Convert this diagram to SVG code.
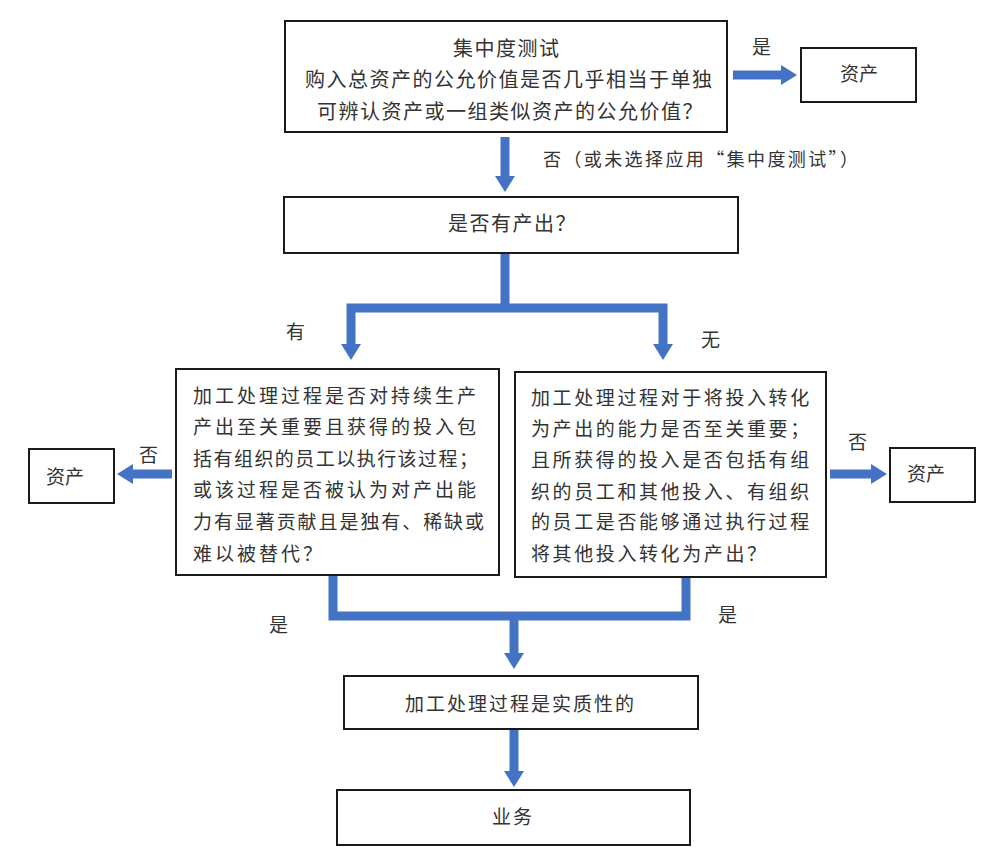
<svg xmlns="http://www.w3.org/2000/svg" width="991" height="854" viewBox="0 0 991 854">
<style>
.box{fill:#fff;stroke:#1a1a1a;stroke-width:2}
text{font-family:"Noto Sans CJK SC","Noto Sans CJK TC",sans-serif;fill:#333;dominant-baseline:central}
.t20{font-size:20px;letter-spacing:1.5px}
.tl{font-size:19px;letter-spacing:3px}
.tr{font-size:19px;letter-spacing:2.6px}
.t19b{font-size:19px;letter-spacing:2px}
.lbl{font-size:19px}
.lbl2{font-size:18px;letter-spacing:2.4px}
.con{fill:none;stroke:#4472C4;stroke-width:9;stroke-linejoin:miter}
</style>
<defs>
<marker id="ah" viewBox="0 0 16 20" refX="0" refY="10" markerWidth="16" markerHeight="20" markerUnits="userSpaceOnUse" orient="auto-start-reverse">
<path d="M0,0 L16,10 L0,20 Z" fill="#4472C4"/>
</marker>
</defs>
<g id="connectors">
<path class="con" d="M733,75 H781" marker-end="url(#ah)"/>
<path class="con" d="M505,137 V176" marker-end="url(#ah)"/>
<path class="con" d="M505,253 V308"/>
<path class="con" d="M351,344 V308 H663 V344" marker-start="url(#ah)" marker-end="url(#ah)"/>
<path class="con" d="M172,474 H133" marker-end="url(#ah)"/>
<path class="con" d="M830,474 H871" marker-end="url(#ah)"/>
<path class="con" d="M333,576 V616 H686 V577"/>
<path class="con" d="M514,616 V653" marker-end="url(#ah)"/>
<path class="con" d="M514,730 V771" marker-end="url(#ah)"/>
</g>
<g id="labels">
<text class="lbl" x="752" y="45">是</text>
<text class="lbl2" x="543" y="158">否（或未选择应用“集中度测试”）</text>
<text class="lbl" x="286" y="330">有</text>
<text class="lbl" x="701" y="338">无</text>
<text class="lbl" x="139" y="453">否</text>
<text class="lbl" x="848" y="440">否</text>
<text class="lbl" x="269" y="623">是</text>
<text class="lbl" x="718" y="613">是</text>
</g>
<g id="n-concentration">
<rect class="box" x="285" y="21" width="442" height="111"/>
<text class="t20" x="453" y="47">集中度测试</text>
<text class="t20" x="305" y="78">购入总资产的公允价值是否几乎相当于单独</text>
<text class="t20" x="317" y="110">可辨认资产或一组类似资产的公允价值？</text>
</g>
<g id="n-asset-top">
<rect class="box" x="801" y="48" width="115" height="54"/>
<text class="lbl" x="840" y="72">资产</text>
</g>
<g id="n-output">
<rect class="box" x="284" y="197" width="454" height="56"/>
<text class="t20" x="448" y="222">是否有产出？</text>
</g>
<g id="n-left">
<rect class="box" x="176" y="369" width="323" height="206"/>
<text class="tl" x="193" y="394">加工处理过程是否对持续生产</text>
<text class="tl" x="193" y="425">产出至关重要且获得的投入包</text>
<text class="tl" x="193" y="457" textLength="288" lengthAdjust="spacing">括有组织的员工以执行该过程；</text>
<text class="tl" x="193" y="488">或该过程是否被认为对产出能</text>
<text class="tl" x="193" y="520" textLength="294" lengthAdjust="spacing">力有显著贡献且是独有、稀缺或</text>
<text class="tl" x="193" y="552">难以被替代？</text>
</g>
<g id="n-right">
<rect class="box" x="515" y="372" width="311" height="205"/>
<text class="tr" x="531" y="396">加工处理过程对于将投入转化</text>
<text class="tr" x="531" y="427">为产出的能力是否至关重要；</text>
<text class="tr" x="531" y="458">且所获得的投入是否包括有组</text>
<text class="tr" x="531" y="490">织的员工和其他投入、有组织</text>
<text class="tr" x="531" y="520">的员工是否能够通过执行过程</text>
<text class="tr" x="531" y="552">将其他投入转化为产出？</text>
</g>
<g id="n-asset-left">
<rect class="box" x="29" y="449" width="85" height="54"/>
<text class="lbl" x="46" y="475">资产</text>
</g>
<g id="n-asset-right">
<rect class="box" x="890" y="448" width="85" height="54"/>
<text class="lbl" x="907" y="472">资产</text>
</g>
<g id="n-substantive">
<rect class="box" x="344" y="676" width="354" height="53"/>
<text class="t19b" x="405" y="702">加工处理过程是实质性的</text>
</g>
<g id="n-business">
<rect class="box" x="337" y="790" width="353" height="55"/>
<text class="t19b" x="492" y="815">业务</text>
</g>
</svg>
